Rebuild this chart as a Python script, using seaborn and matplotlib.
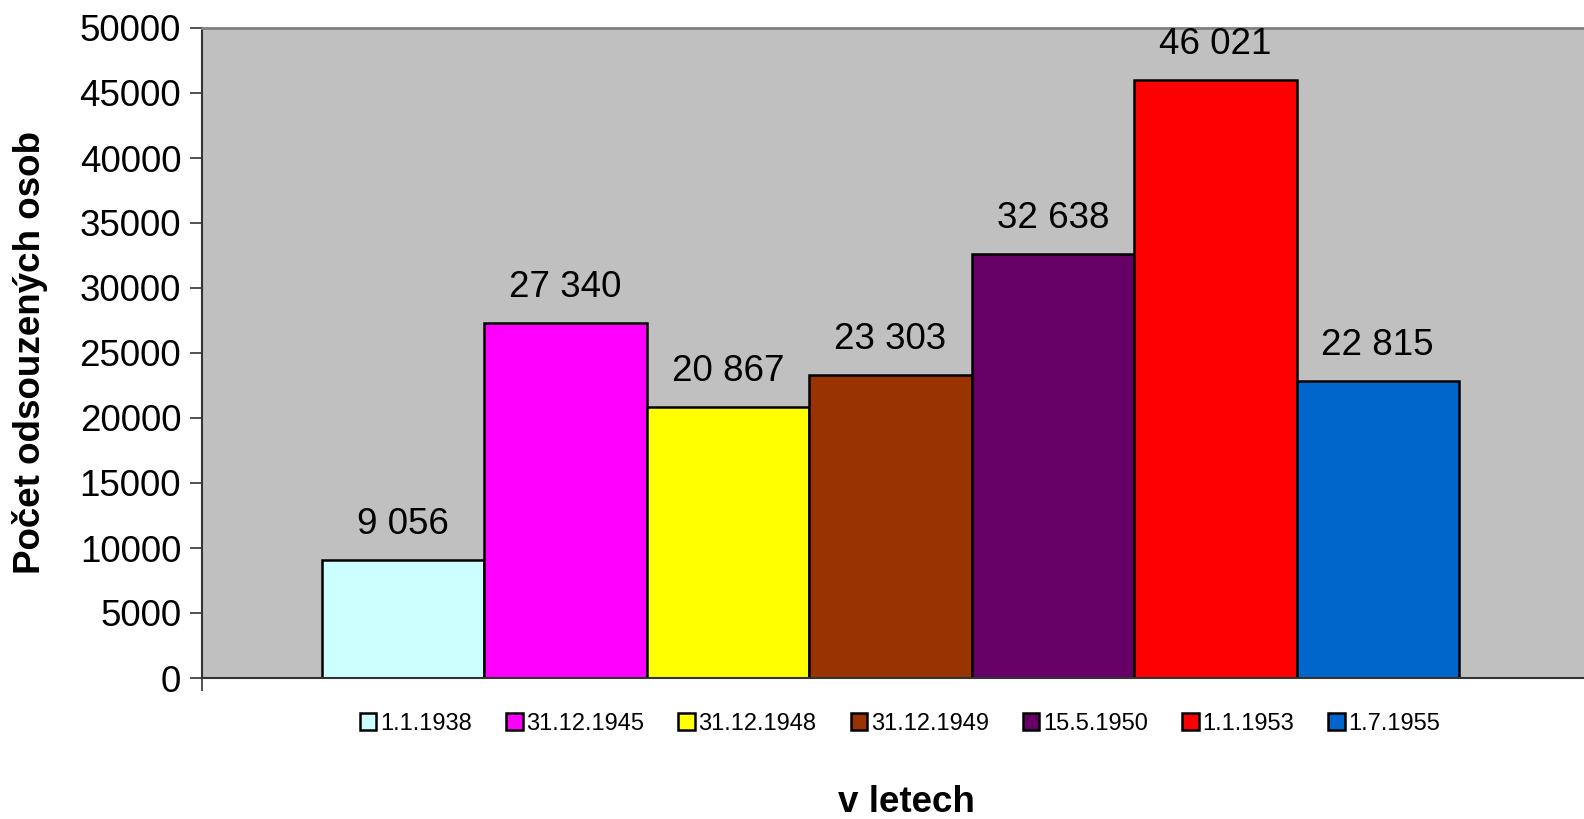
import matplotlib
matplotlib.use("Agg")
import matplotlib.pyplot as plt
import seaborn as sns
import pandas as pd
from matplotlib.patches import Patch

# Data
dates = ["1.1.1938", "31.12.1945", "31.12.1948", "31.12.1949",
         "15.5.1950", "1.1.1953", "1.7.1955"]
counts = [9056, 27340, 20867, 23303, 32638, 46021, 22815]
colors = ["#CCFFFF", "#FF00FF", "#FFFF00", "#993300",
          "#660066", "#FF0000", "#0066CC"]
y_ticks = list(range(0, 50001, 5000))

df = pd.DataFrame({"datum": dates, "pocet": counts})

sns.set_style("white")
plt.rcParams["font.family"] = ["Liberation Sans", "DejaVu Sans"]
plt.rcParams["text.color"] = "black"
plt.rcParams["axes.labelcolor"] = "black"
plt.rcParams["xtick.color"] = "black"
plt.rcParams["ytick.color"] = "black"

fig = plt.figure(figsize=(15.84, 8.19), dpi=100)
ax = fig.add_axes([202 / 1584, 1 - 678 / 819, 1 - 202 / 1584 + 0.01, (678 - 28) / 819])
ax.set_facecolor("#C0C0C0")

sns.barplot(
    data=df, x="datum", y="pocet", hue="datum",
    palette=colors, saturation=1, width=1.0, edgecolor="black", linewidth=1.8,
    legend=False, ax=ax
)

# Value labels
for i, v in enumerate(counts):
    ax.annotate(f"{v:,}".replace(",", " "), (i, v), xytext=(0, 13),
                textcoords="offset points", ha="center", va="bottom",
                fontsize=26.5)

ax.set_xlim(-1.239, 7.27 + 0.01 * 1584 / 162.4)
ax.set_ylim(0, 50000)
ax.set_yticks(y_ticks)
ax.set_yticklabels([str(t) for t in y_ticks], fontsize=26.5)
ax.set_xticks([-1.239])
ax.set_xticklabels([""])
ax.tick_params(axis="both", direction="out", length=9, width=1.2, color="#333333",
               left=True, bottom=True, pad=6)
ax.set_xlabel("")
ax.set_ylabel("Počet odsouzených osob", fontsize=26.5, fontweight="bold")
ax.yaxis.set_label_coords(-0.1105, 0.5)

for s in ["left", "bottom"]:
    ax.spines[s].set_color("#333333")
    ax.spines[s].set_linewidth(1.5)
ax.spines["top"].set_color("#808080")
ax.spines["top"].set_linewidth(2)
ax.spines["right"].set_visible(False)

# Legend
handles = [Patch(facecolor=c, edgecolor="black", linewidth=1.8) for c in colors]
fig.legend(handles, dates, loc="center", bbox_to_anchor=(900 / 1584, 1 - 724 / 819),
           ncol=7, frameon=False, fontsize=17, handlelength=0.7, handleheight=0.7,
           handletextpad=0.15, columnspacing=1.45)

fig.text(906 / 1584, 1 - 803 / 819, "v letech", ha="center", va="center",
         fontsize=26.5, fontweight="bold")

fig.savefig("out.png", dpi=100)
